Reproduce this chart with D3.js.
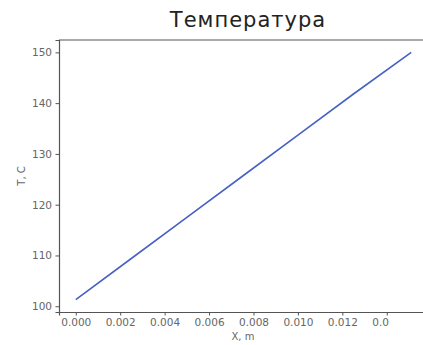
<!DOCTYPE html>
<html>
<head>
<meta charset="utf-8">
<script src="https://cdn.jsdelivr.net/npm/d3@7"></script>
<style>
    body { margin: 0; background: #fff; overflow: hidden; }
    svg { display: block; }
</style>
</head>
<body>
<svg id="chart" width="423" height="345"></svg>
<script>
// temperature along x

const xValues = [0, 0.0025, 0.005, 0.0075, 0.01, 0.0125, 0.0151];
const tValues = [101.3, 109.4, 117.5, 125.6, 133.7, 141.8, 150.0];
const xTicks = [0, 0.002, 0.004, 0.006, 0.008, 0.01, 0.012, 0.014];
const yTicks = [100, 110, 120, 130, 140, 150];

const titleText = "Температура";
const xLabel = "X, m";
const yLabel = "T, C";

const svg = d3.select("#chart");

const margin = { left: 59, top: 40, bottom: 312 };
const plotRight = 428;
const labelCut = 389; // last x label is cut off in the original picture

const points = xValues.map((x, i) => ({ x: x, t: tValues[i] }));

// matplotlib-like 5% margins
const xPad = (d3.max(xValues) - d3.min(xValues)) * 0.05;
const yPad = (d3.max(tValues) - d3.min(tValues)) * 0.05;

const x = d3
    .scaleLinear()
    .domain([d3.min(xValues) - xPad, d3.max(xValues) + xPad])
    .range([margin.left, plotRight]);

const y = d3
    .scaleLinear()
    .domain([d3.min(tValues) - yPad, d3.max(tValues) + yPad])
    .range([margin.bottom, margin.top]);

const axisColor = "#555";
const labelColor = "#666";

const defs = svg.append("defs");

const xAxis = svg
    .append("g")
    .attr("transform", `translate(0,${margin.bottom})`)
    .call(
        d3.axisBottom(x)
            .tickValues(xTicks)
            .tickFormat(d3.format(".3f"))
            .tickSizeOuter(0)
            .tickSize(3.5)
            .tickPadding(3.5)
    );

// one clip per tick, in that tick's own coordinates
xTicks.forEach((d, i) => {
    defs.append("clipPath")
        .attr("id", `xclip-${i}`)
        .append("rect")
        .attr("x", -x(d))
        .attr("y", -10)
        .attr("width", labelCut)
        .attr("height", 40);
});
xAxis.selectAll(".tick text")
    .attr("clip-path", (d) => `url(#xclip-${xTicks.indexOf(d)})`);

const yAxis = svg
    .append("g")
    .attr("transform", `translate(${margin.left},0)`)
    .call(
        d3.axisLeft(y)
            .tickValues(yTicks)
            .tickSizeOuter(0)
            .tickSize(3.5)
            .tickPadding(3.5)
    );

[xAxis, yAxis].forEach((g) => {
    g.selectAll("text")
        .attr("fill", labelColor)
        .style("font-family", "DejaVu Sans, sans-serif")
        .style("font-size", "10.5px");
    g.selectAll("line").attr("stroke", axisColor);
    g.select(".domain").attr("stroke", axisColor).attr("stroke-width", 1.2);
});

// top spine
svg.append("line")
    .attr("x1", margin.left)
    .attr("x2", plotRight)
    .attr("y1", margin.top)
    .attr("y2", margin.top)
    .attr("stroke", axisColor)
    .attr("stroke-width", 1.2);

const line = d3
    .line()
    .x((d) => x(d.x))
    .y((d) => y(d.t));

svg.append("path")
    .datum(points)
    .attr("fill", "none")
    .attr("stroke", "#4862c4")
    .attr("stroke-width", 1.6)
    .attr("d", line);

svg.append("text")
    .attr("x", 248)
    .attr("y", 27)
    .attr("text-anchor", "middle")
    .attr("fill", "#222")
    .style("font-family", "DejaVu Sans, sans-serif")
    .style("font-size", "21px")
    .style("letter-spacing", "1px")
    .text(titleText);

svg.append("text")
    .attr("x", 243)
    .attr("y", 340)
    .attr("text-anchor", "middle")
    .attr("fill", labelColor)
    .style("font-family", "DejaVu Sans, sans-serif")
    .style("font-size", "10px")
    .text(xLabel);

svg.append("text")
    .attr("transform", `translate(25,${(margin.top + margin.bottom) / 2}) rotate(-90)`)
    .attr("text-anchor", "middle")
    .attr("fill", labelColor)
    .style("font-family", "DejaVu Sans, sans-serif")
    .style("font-size", "10px")
    .text(yLabel);
</script>
</body>
</html>
